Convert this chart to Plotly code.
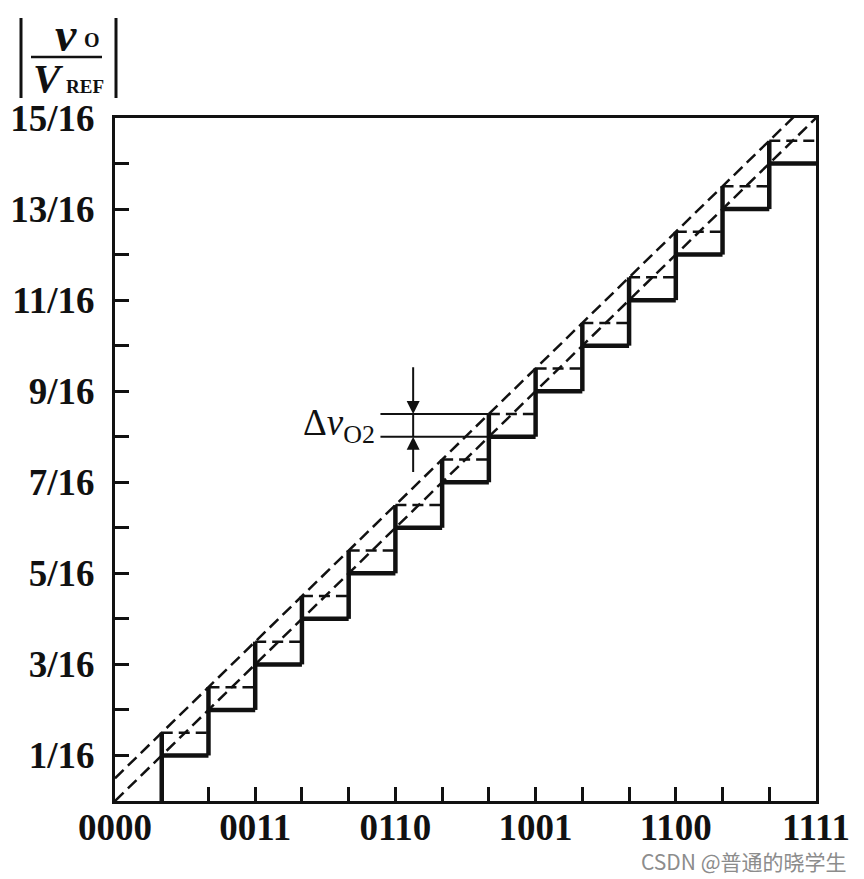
import plotly.graph_objects as go

# ---------------- data ----------------
codes = list(range(16))  # digital input 0000 ... 1111
code_tick_labels = ["0000", "", "", "0011", "", "", "0110", "", "",
                    "1001", "", "", "1100", "", "", "1111"]
level_ticks = list(range(16))  # output in units of V_REF/16
level_tick_labels = ["", "1/16", "", "3/16", "", "5/16", "", "7/16", "",
                     "9/16", "", "11/16", "", "13/16", "", "15/16"]
# actual (solid) staircase output for each code, in 1/16 units
solid_levels = [0, 1, 2, 3, 4, 5, 6, 7, 8, 9, 10, 11, 12, 13, 14, 15]
# offset (dashed) staircase output for each code, in 1/16 units
dashed_levels = [0.5, 1.5, 2.5, 3.5, 4.5, 5.5, 6.5, 7.5, 8.5, 9.5,
                 10.5, 11.5, 12.5, 13.5, 14.5, 15.5]
delta_code = 8  # step where Δv_O2 is marked

# ---------------- geometry helpers (page pixel -> paper) ----------------
OFF = 7  # page body offset
W, H = 864 - OFF, 879 - OFF
L, R, T, B = 114 - OFF, 815 - OFF, 117 - OFF, 800 - OFF


def px(x):
    return (x - OFF - L) / (R - L)


def py(y):
    return (B - (y - OFF)) / (B - T)


INK = "#111111"
SERIF = "Liberation Serif"

fig = go.Figure()

# solid staircase
sx, sy = [], []
for k in range(1, 15):
    sx += [codes[k], codes[k], None]
    sy += [solid_levels[k - 1], dashed_levels[k], None]
    sx += [codes[k], codes[k + 1], None]
    sy += [solid_levels[k], solid_levels[k], None]
fig.add_trace(go.Scatter(x=sx, y=sy, mode="lines",
                         line=dict(color=INK, width=4.5), hoverinfo="skip"))

# dashed step levels
dx, dy = [], []
for k in range(1, 15):
    dx += [codes[k], codes[k + 1], None]
    dy += [dashed_levels[k], dashed_levels[k], None]
fig.add_trace(go.Scatter(x=dx, y=dy, mode="lines",
                         line=dict(color=INK, width=2.5, dash="11px,6px"),
                         hoverinfo="skip"))

# dashed diagonals
fig.add_trace(go.Scatter(x=codes, y=solid_levels, mode="lines",
                         line=dict(color=INK, width=2.5, dash="12px,6px"),
                         hoverinfo="skip"))
fig.add_trace(go.Scatter(x=codes, y=dashed_levels, mode="lines",
                         line=dict(color=INK, width=2.5, dash="12px,6px"),
                         hoverinfo="skip"))

# Δv_O2 marker lines
mark_left = delta_code - 2.32
arrow_x = delta_code - 1.62
fig.add_trace(go.Scatter(
    x=[mark_left, codes[delta_code], None, mark_left, codes[delta_code], None,
       arrow_x, arrow_x],
    y=[dashed_levels[delta_code], dashed_levels[delta_code], None,
       solid_levels[delta_code], solid_levels[delta_code], None,
       solid_levels[delta_code], dashed_levels[delta_code]],
    mode="lines", line=dict(color=INK, width=2), hoverinfo="skip"))

annotations = [
    dict(x=arrow_x, y=dashed_levels[delta_code], ax=arrow_x,
         ay=dashed_levels[delta_code] + 1.06, xref="x", yref="y",
         axref="x", ayref="y", text="", showarrow=True, arrowhead=2,
         arrowsize=1.3, arrowwidth=2, arrowcolor=INK),
    dict(x=arrow_x, y=solid_levels[delta_code], ax=arrow_x,
         ay=solid_levels[delta_code] - 0.81, xref="x", yref="y",
         axref="x", ayref="y", text="", showarrow=True, arrowhead=2,
         arrowsize=1.3, arrowwidth=2, arrowcolor=INK),
    dict(x=mark_left - 0.08, y=(solid_levels[delta_code] + dashed_levels[delta_code]) / 2,
         xref="x", yref="y", xanchor="right", yanchor="middle",
         text="Δ<i>v</i><sub>O2</sub>", showarrow=False,
         font=dict(family=SERIF, size=37, color=INK)),
    # y-axis title |v_O / V_REF|
    dict(x=px(65), y=py(33), xref="paper", yref="paper", text="<i>v</i>",
         showarrow=False, xanchor="center", yanchor="middle",
         font=dict(family=SERIF, size=48, color=INK, weight="bold")),
    dict(x=px(81), y=py(39), xref="paper", yref="paper", text="O",
         showarrow=False, xanchor="left", yanchor="middle",
         font=dict(family=SERIF, size=20, color=INK, weight="bold")),
    dict(x=px(47), y=py(77), xref="paper", yref="paper", text="<i>V</i>",
         showarrow=False, xanchor="center", yanchor="middle",
         font=dict(family=SERIF, size=41, color=INK, weight="bold")),
    dict(x=px(63), y=py(86), xref="paper", yref="paper", text="REF",
         showarrow=False, xanchor="left", yanchor="middle",
         font=dict(family=SERIF, size=19, color=INK, weight="bold")),
    # watermark
    dict(x=px(848), y=py(860), xref="paper", yref="paper",
         text="CSDN @普通的晓学生", showarrow=False, xanchor="right",
         yanchor="middle",
         font=dict(family="Noto Sans CJK SC", size=21, color="#8c8c8c")),
]

shapes = [
    dict(type="line", xref="paper", yref="paper", x0=px(20), x1=px(20),
         y0=py(17), y1=py(97), line=dict(color=INK, width=3)),
    dict(type="line", xref="paper", yref="paper", x0=px(115), x1=px(115),
         y0=py(17), y1=py(97), line=dict(color=INK, width=3)),
    dict(type="line", xref="paper", yref="paper", x0=px(30), x1=px(101),
         y0=py(56), y1=py(56), line=dict(color=INK, width=2.5)),
]

axis_common = dict(showgrid=False, zeroline=False, showline=True,
                   linecolor=INK, linewidth=3, mirror=True,
                   ticks="inside", ticklen=14, tickwidth=3, tickcolor=INK,
                   tickfont=dict(family=SERIF, size=37, color=INK,
                                 weight="bold"))

fig.update_layout(
    width=W, height=H,
    margin=dict(l=L, r=W - R, t=T, b=H - B, autoexpand=False),
    paper_bgcolor="white", plot_bgcolor="white",
    showlegend=False,
    xaxis=dict(range=[0, 15], tickmode="array", tickvals=codes,
               ticktext=code_tick_labels, ticklabelstandoff=-8, **axis_common),
    yaxis=dict(range=[0, 15], tickmode="array", tickvals=level_ticks,
               ticktext=level_tick_labels, ticklabelstandoff=10, **axis_common),
    annotations=annotations,
    shapes=shapes,
)

fig.write_html("out.html")
